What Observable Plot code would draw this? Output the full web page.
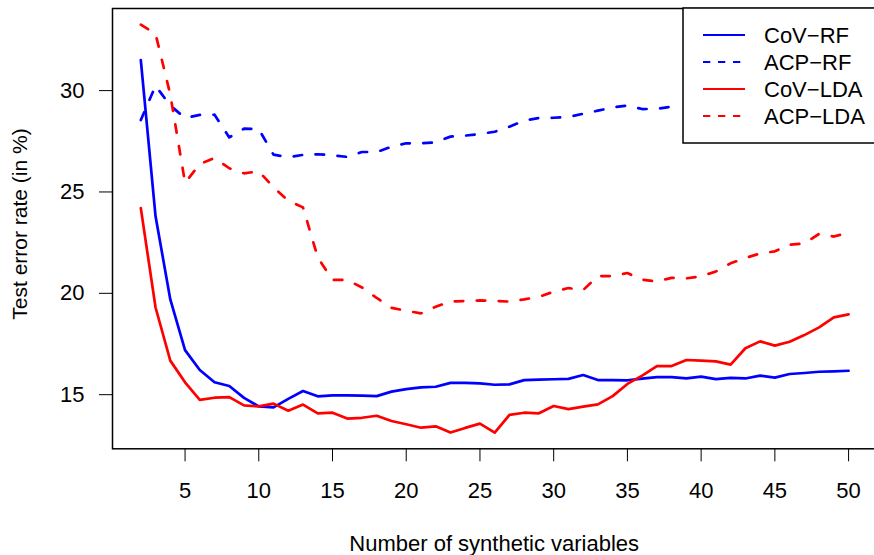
<!DOCTYPE html>
<html><head><meta charset="utf-8">
<script src="https://cdn.jsdelivr.net/npm/d3@7"></script>
<script src="https://cdn.jsdelivr.net/npm/@observablehq/plot@0.6"></script>
<style>body{margin:0;background:#fff;} #chart{width:874px;height:555px;}</style>
</head><body><div id="chart"></div>
<script>
const ks = [2,3,4,5,6,7,8,9,10,11,12,13,14,15,16,17,18,19,20,21,22,23,24,25,26,27,28,29,30,31,32,33,34,35,36,37,38,39,40,41,42,43,44,45,46,47,48,49,50];
const covRF = [31.5,23.8,19.7,17.2,16.22,15.61,15.43,14.84,14.42,14.37,14.79,15.18,14.92,14.97,14.97,14.95,14.93,15.15,15.27,15.36,15.39,15.58,15.58,15.56,15.49,15.51,15.72,15.74,15.76,15.78,15.97,15.72,15.72,15.71,15.79,15.87,15.87,15.80,15.89,15.77,15.83,15.80,15.94,15.84,16.02,16.07,16.13,16.15,16.18];
const acpRF = [28.55,30.24,29.26,28.65,28.8,28.81,27.69,28.12,28.1,26.84,26.71,26.83,26.86,26.81,26.73,26.97,26.97,27.23,27.40,27.40,27.45,27.73,27.78,27.86,27.97,28.22,28.52,28.65,28.66,28.7,28.86,29.01,29.17,29.26,29.09,29.1,29.21];
const covLDA = [24.2,19.3,16.68,15.61,14.74,14.85,14.88,14.47,14.42,14.56,14.21,14.51,14.08,14.11,13.82,13.86,13.96,13.70,13.54,13.37,13.44,13.13,13.36,13.57,13.13,14.0,14.11,14.08,14.44,14.29,14.41,14.52,14.93,15.53,15.94,16.41,16.41,16.71,16.68,16.64,16.48,17.29,17.63,17.42,17.61,17.94,18.32,18.81,18.96];
const acpLDA = [33.25,32.8,29.8,25.45,26.38,26.68,26.17,25.92,26.02,25.23,24.57,24.24,21.77,20.66,20.66,20.29,19.77,19.28,19.14,19.01,19.34,19.6,19.62,19.65,19.63,19.59,19.7,19.83,20.08,20.26,20.16,20.85,20.85,21.0,20.67,20.59,20.76,20.74,20.84,21.08,21.48,21.74,21.97,22.07,22.4,22.46,22.93,22.8,23.0];
const seriesNames = ["CoV\u2212RF","ACP\u2212RF","CoV\u2212LDA","ACP\u2212LDA"];
const seriesColors = ["#0000ff","#0000ff","#ff0000","#ff0000"];
const seriesDashed = [false,true,false,true];
const xTicks = [5,10,15,20,25,30,35,40,45,50];
const yTicks = [15,20,25,30];
const xTitle = "Number of synthetic variables";
const yTitle = "Test error rate (in %)";

const allValues = [covRF, acpRF, covLDA, acpLDA];
const rows = allValues.map(vals => vals.map((v,i) => ({k: ks[i], v})));

const W = 874, H = 555, mL = 112, mT = 8, mB = 555 - 448.3, mR = -2.4;

const lineMarks = rows.map((data, i) => Plot.line(data, {
  x: "k", y: "v", stroke: seriesColors[i], strokeWidth: 2.7,
  strokeDasharray: seriesDashed[i] ? "8.5,13.5" : null,
  strokeLinecap: "round", strokeLinejoin: "round"
}));

const plot = Plot.plot({
  width: W, height: H,
  marginLeft: mL, marginRight: mR, marginTop: mT, marginBottom: mB,
  style: {fontFamily: "'Liberation Sans', Arial, sans-serif", fontSize: "22px", background: "#fff", color: "#000", overflow: "hidden"},
  x: {domain: [0.08, 51.92]},
  y: {domain: [12.33, 34.05]},
  marks: [
    Plot.axisX({ticks: xTicks, tickSize: 13, tickPadding: 20.5, label: null, stroke: "#000", strokeWidth: 1}),
    Plot.axisY({ticks: yTicks, tickSize: 13, tickPadding: 15, label: null, stroke: "#000", strokeWidth: 1}),
    ...lineMarks,
    Plot.frame({stroke: "#000", strokeWidth: 1.5})
  ]
});

const svg = d3.select(plot);
svg.append("text").attr("x", (mL + W - mR) / 2).attr("y", 551)
  .attr("text-anchor", "middle").attr("font-size", 22).attr("fill", "#000").text(xTitle);
svg.append("text").attr("transform", "translate(27,224) rotate(-90)")
  .attr("text-anchor", "middle").attr("font-size", 21).attr("fill", "#000").text(yTitle);

// legend
const lg = svg.append("g");
lg.append("rect").attr("x", 683).attr("y", 8).attr("width", 200).attr("height", 135)
  .attr("fill", "#fff").attr("stroke", "#000").attr("stroke-width", 1.5);
seriesNames.forEach((name, i) => {
  const yy = 35 + i * 27;
  lg.append("line").attr("x1", 703).attr("x2", 745).attr("y1", yy).attr("y2", yy)
    .attr("stroke", seriesColors[i]).attr("stroke-width", 1.8)
    .attr("stroke-linecap", "butt")
    .attr("stroke-dasharray", seriesDashed[i] ? "7.3,7.7" : null);
  lg.append("text").attr("x", 764).attr("y", yy).attr("dy", "0.35em")
    .attr("text-anchor", "start")
    .attr("font-size", 22).attr("fill", "#000").text(name);
});

document.getElementById("chart").appendChild(plot);
</script>
</body></html>
